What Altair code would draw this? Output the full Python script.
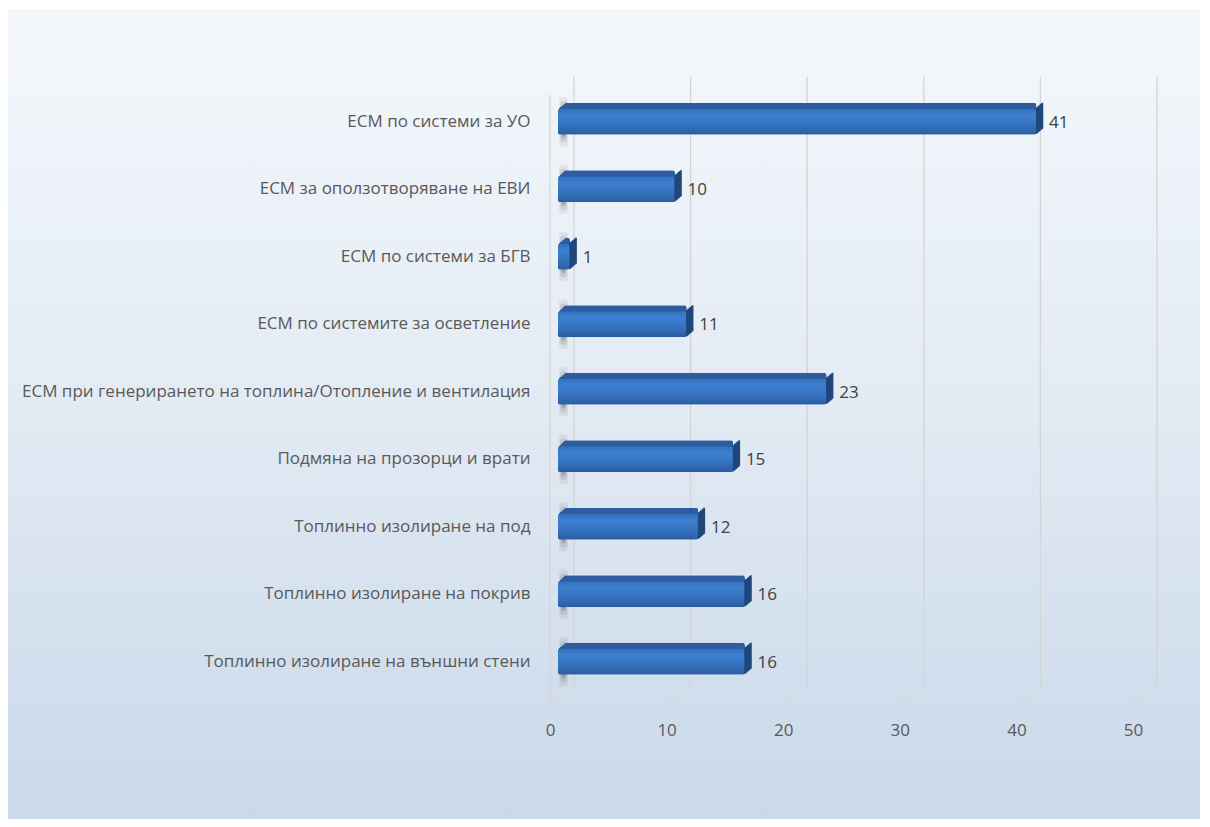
import altair as alt
import pandas as pd

categories = [
    "ЕСМ по системи за УО",
    "ЕСМ за оползотворяване на ЕВИ",
    "ЕСМ по системи за БГВ",
    "ЕСМ по системите за осветление",
    "ЕСМ при генерирането на топлина/Отопление и вентилация",
    "Подмяна на прозорци и врати",
    "Топлинно изолиране на под",
    "Топлинно изолиране на покрив",
    "Топлинно изолиране на външни стени",
]
values = [41, 10, 1, 11, 23, 15, 12, 16, 16]
ticks = [0, 10, 20, 30, 40, 50]

df = pd.DataFrame({"cat": categories, "v": values})
tdf = pd.DataFrame({"t": ticks})
one = pd.DataFrame({"a": [0]})

FONT = "Open Sans"
W, H = 583, 607.5
DEPTH_X, DEPTH_Y, STEPS = 7, 6, 7

xs = alt.Scale(domain=[0, 50], nice=False)
ys = alt.Scale(domain=categories, paddingInner=0.615, paddingOuter=0.3075)

XAX = alt.Axis(values=ticks, title=None, grid=False, domain=False, labelFlush=False,
               ticks=False, labelPadding=27, labelOffset=-8, zindex=1,
               labelFont=FONT, labelFontSize=17, labelColor="#595959")
X = alt.X("v:Q", scale=xs, axis=XAX)
Y = alt.Y("cat:N", scale=ys, sort=categories,
          axis=alt.Axis(title=None, domain=False, ticks=False, labelPadding=28, labelLimit=0,
                        zindex=1, labelFont=FONT, labelFontSize=17, labelColor="#595959"))

bg = alt.Chart(one).mark_rect(
    fill=alt.LinearGradient(gradient="linear", x1=0, y1=0, x2=0, y2=1,
                            stops=[alt.GradientStop(color="#F4F8FC", offset=0),
                                   alt.GradientStop(color="#E2EAF3", offset=0.5),
                                   alt.GradientStop(color="#C9D8EA", offset=1)])
).encode(x=alt.value(-551), x2=alt.value(642), y=alt.value(-79), y2=alt.value(731))

back_grid = alt.Chart(tdf).mark_rule(color="#D4D4D4", strokeWidth=1.3, xOffset=16).encode(
    x=alt.X("t:Q", scale=xs, axis=XAX), y=alt.value(-11), y2=alt.value(598))
floor_grid = alt.Chart(tdf).mark_rule(color="#DDD9D3", strokeWidth=1.2, xOffset=-8, x2Offset=16).encode(
    x=alt.X("t:Q", scale=xs, axis=XAX), x2="t:Q", y=alt.value(615), y2=alt.value(598))
left_wall = alt.Chart(one).mark_rule(color="#D6D6D6", strokeWidth=1.3).encode(
    x=alt.value(-8), y=alt.value(7), y2=alt.value(615))

layers = [bg, back_grid, floor_grid, left_wall]

for band, op, x0, x1 in [(1.9, 0.08, 1, 10), (1.6, 0.12, 2, 9), (1.3, 0.18, 3, 8), (1.1, 0.22, 4, 7)]:
    layers.append(alt.Chart(df).mark_bar(color="#444444", opacity=op, cornerRadius=3,
                                         height=alt.RelativeBandSize(band=band)).encode(
        x=alt.value(x0), x2=alt.value(x1), y=Y))

for k in range(1, STEPS + 1):
    layers.append(alt.Chart(df).mark_bar(color="#2D5D9E", cornerRadius=2,
                                         xOffset=k * DEPTH_X / STEPS, x2Offset=k * DEPTH_X / STEPS,
                                         yOffset=-k * DEPTH_Y / STEPS).encode(x=X, y=Y))
for k in range(1, STEPS + 1):
    dx = k * DEPTH_X / STEPS
    layers.append(alt.Chart(df).mark_bar(color="#1F477C",
                                         xOffset=dx - 1.6, x2Offset=dx + 0.2,
                                         yOffset=-k * DEPTH_Y / STEPS).encode(
        x=X, x2="v:Q", y=Y))

front = alt.Chart(df).mark_bar(
    cornerRadius=2,
    color=alt.LinearGradient(gradient="linear", x1=0, y1=0, x2=0, y2=1,
                             stops=[alt.GradientStop(color="#3270BD", offset=0),
                                    alt.GradientStop(color="#3D80D0", offset=0.25),
                                    alt.GradientStop(color="#336FBA", offset=0.7),
                                    alt.GradientStop(color="#2A5C9E", offset=1)])
).encode(x=X, y=Y)
labels = alt.Chart(df).mark_text(align="left", baseline="middle", dx=13, dy=1,
                                 font=FONT, fontSize=17, color="#404040").encode(
    x=X, y=Y, text="v:Q")
layers += [front, labels]

chart = alt.layer(*layers).properties(
    width=W, height=H,
    autosize=alt.AutoSizeParams(type="none"),
    padding={"left": 550, "top": 80, "right": 60, "bottom": 123},
    background="white",
).configure_view(stroke=None)

chart.save("out.html", embed_options={"renderer": "svg", "actions": False})
